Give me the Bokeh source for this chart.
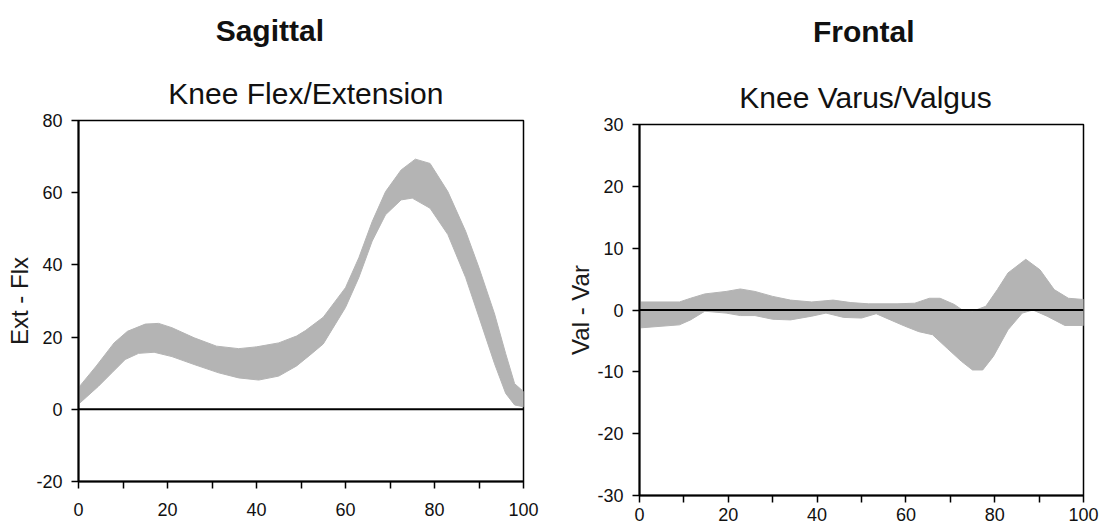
from bokeh.plotting import figure
from bokeh.layouts import row, column
from bokeh.models import FixedTicker, Span, Range1d
from bokeh.core.properties import value
from bokeh.embed import file_html
from bokeh.resources import INLINE

# ---------------- data ----------------
# Knee Flex/Extension band (degrees, % gait cycle)
flex_upper_x = [0, 4, 8, 11, 15, 18, 21, 26, 31, 36, 40, 45, 49, 51, 55, 60, 63, 66, 69, 72.5, 75.7, 79, 83, 87, 90, 93.5, 96, 98, 100]
flex_upper_y = [6, 12, 18.4, 21.6, 23.6, 23.8, 22.6, 19.8, 17.5, 16.8, 17.3, 18.4, 20.3, 21.8, 25.5, 33.7, 42, 52, 60.3, 66.3, 69.3, 68.1, 60.3, 49.3, 39.2, 26.4, 15.4, 7.1, 4.9]
flex_lower_x = [0, 4.5, 7.5, 10.5, 13.5, 17, 21, 26, 31.5, 36, 40.5, 45, 49, 52, 55, 60, 63, 66, 69, 72.5, 75, 79, 83, 87, 90, 93.5, 96, 98, 100]
flex_lower_y = [1.4, 6.4, 10.1, 13.8, 15.5, 15.8, 14.6, 12.4, 10.1, 8.7, 8.1, 9.2, 12, 15, 18.1, 28.2, 36.5, 46.6, 53.9, 58, 58.5, 55.7, 48.4, 36.5, 25.5, 12.6, 4.4, 1.2, 0.7]

# Knee Varus/Valgus band
vv_upper_x = [0, 9, 11.5, 14.7, 19.5, 22.7, 26, 30, 34, 38.8, 43.6, 47.6, 51.6, 58, 62, 65.3, 67.7, 70.9, 72.5, 75, 78, 80.6, 83, 87, 90.2, 93.4, 96.6, 100]
vv_upper_y = [1.3, 1.3, 1.9, 2.6, 3.0, 3.4, 3.0, 2.2, 1.6, 1.3, 1.6, 1.2, 1.0, 1.0, 1.1, 1.9, 1.9, 0.9, 0.1, -0.2, 0.6, 3.3, 6.0, 8.2, 6.5, 3.3, 1.9, 1.7]
vv_lower_x = [0, 9, 11.5, 14.7, 19.5, 22.7, 26, 30, 34, 38.8, 42, 46, 50, 53.3, 56.5, 59.7, 62.9, 66, 69.3, 72.5, 75, 77.3, 79.7, 83, 86.2, 88.6, 91.8, 95.8, 100]
vv_lower_y = [-2.9, -2.4, -1.6, -0.2, -0.5, -0.9, -0.9, -1.5, -1.6, -1.0, -0.5, -1.2, -1.3, -0.6, -1.6, -2.6, -3.5, -4.0, -6.2, -8.3, -9.7, -9.7, -7.5, -3.2, -0.5, 0.0, -1.0, -2.5, -2.5]

x_ticks = [0, 20, 40, 60, 80, 100]
x_minor = [10, 30, 50, 70, 90]
flex_yticks = [-20, 0, 20, 40, 60, 80]
vv_yticks = [-30, -20, -10, 0, 10, 20, 30]

section_titles = ["Sagittal", "Frontal"]
plot_titles = ["Knee Flex/Extension", "Knee Varus/Valgus"]
y_labels = ["Ext - Flx", "Val - Var"]

FONT = "Liberation Sans"
BAND = "#b4b4b4"
H = 529


def make_header(width, height, x_range, sec, sec_xy, sub, sub_xy):
    # header frame is aligned with the plot frame below it (shared x range);
    # vertical positions are pixels from the top of the header
    h = figure(width=width, height=height, title=None, x_range=x_range,
               y_range=Range1d(height, 0), output_backend="svg",
               toolbar_location=None, x_axis_type=None, y_axis_type=None,
               min_border_left=0, min_border_right=0, min_border_top=0,
               min_border_bottom=0)
    h.grid.visible = False
    h.outline_line_color = None
    h.background_fill_color = "white"
    h.border_fill_color = "white"
    h.text(x=[sec_xy[0]], y=[sec_xy[1]], text=[sec],
           text_font=value(FONT), text_font_size="30px", text_font_style="bold",
           text_align="center", text_baseline="middle", text_color="#111111")
    h.text(x=[sub_xy[0]], y=[sub_xy[1]], text=[sub],
           text_font=value(FONT), text_font_size="30px", text_font_style="normal",
           text_align="center", text_baseline="middle", text_color="#111111")
    return h


def make_fig(width, height, x_range, y_rng, yticks, mb, ylabel, x_standoff):
    p = figure(width=width, height=height, title=None,
               x_range=x_range, y_range=Range1d(*y_rng),
               output_backend="svg", toolbar_location=None,
               min_border_left=mb[0], min_border_right=mb[1],
               min_border_top=mb[2], min_border_bottom=mb[3])
    p.grid.visible = False
    p.background_fill_color = "white"
    p.border_fill_color = "white"
    p.outline_line_color = "black"
    p.outline_line_width = 1.5

    for ax in (p.xaxis[0], p.yaxis[0]):
        ax.axis_line_color = "black"
        ax.axis_line_width = 2
        ax.major_tick_line_color = "black"
        ax.major_tick_line_width = 1.5
        ax.minor_tick_line_color = "black"
        ax.minor_tick_line_width = 1.5
        ax.major_tick_out = 7
        ax.major_tick_in = 0
        ax.minor_tick_out = 7
        ax.minor_tick_in = 0
        ax.major_label_text_font = FONT
        ax.major_label_text_font_size = "18px"
        ax.major_label_text_color = "#111111"

    p.xaxis.ticker = FixedTicker(ticks=x_ticks, minor_ticks=x_minor)
    p.xaxis.major_label_standoff = x_standoff
    p.xaxis.major_label_overrides = {v: str(v) for v in x_ticks}
    p.yaxis.ticker = FixedTicker(ticks=yticks, minor_ticks=[])
    p.yaxis.major_label_standoff = 9
    p.yaxis.major_label_overrides = {v: str(v) for v in yticks}
    p.yaxis.axis_label = ylabel
    p.yaxis.axis_label_text_font = FONT
    p.yaxis.axis_label_text_font_size = "24px"
    p.yaxis.axis_label_text_font_style = "normal"
    p.yaxis.axis_label_text_color = "#1a1a1a"
    p.yaxis.axis_label_standoff = 0
    return p


def add_band(p, ux, uy, lx, ly):
    xs = list(ux) + list(lx)[::-1]
    ys = list(uy) + list(ly)[::-1]
    p.patch(xs, ys, fill_color=BAND, line_color=BAND, line_width=1)
    p.add_layout(Span(location=0, dimension="width", line_color="black", line_width=2))


# Left: sagittal
H1 = 110
xr1 = Range1d(0, 100)
h1 = make_header(560, H1, xr1, section_titles[0], (43.0, 30.1), plot_titles[0], (51.1, 93.4))
p1 = make_fig(560, H - H1, xr1, (-20, 80), flex_yticks, (78, 37, 10, 48), y_labels[0], 14)
add_band(p1, flex_upper_x, flex_upper_y, flex_lower_x, flex_lower_y)

# Right: frontal
H2 = 114
xr2 = Range1d(0, 100)
h2 = make_header(540, H2, xr2, section_titles[1], (50.5, 30.6), plot_titles[1], (50.9, 97.3))
p2 = make_fig(540, H - H2, xr2, (-30, 30), vv_yticks, (79, 17, 10, 34), y_labels[1], 5)
add_band(p2, vv_upper_x, vv_upper_y, vv_lower_x, vv_lower_y)

layout = row(column(h1, p1), column(h2, p2))
open("out.html", "w").write(file_html(layout, INLINE))
